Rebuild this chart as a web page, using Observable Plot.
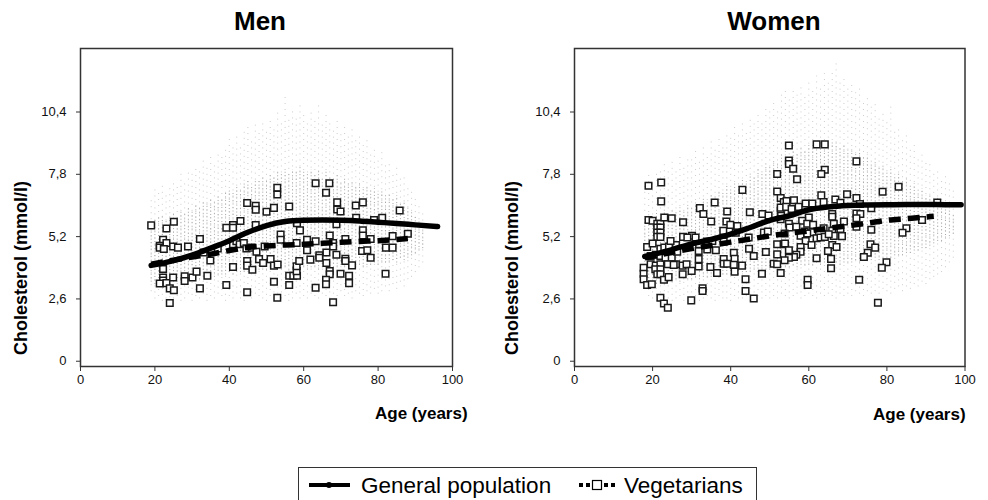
<!DOCTYPE html>
<html>
<head>
<meta charset="utf-8">
<script src="https://cdn.jsdelivr.net/npm/d3@7"></script>
<script src="https://cdn.jsdelivr.net/npm/@observablehq/plot@0.6"></script>
<style>
  html, body { margin: 0; padding: 0; background: #fff; }
  #root { position: relative; width: 988px; height: 500px; overflow: hidden; background: #fff;
          font-family: Arial, "Liberation Sans", Helvetica, sans-serif; color: #000; }
  .panel { position: absolute; top: 0; z-index: 1; }
  .title { position: absolute; top: 6px; font-weight: bold; font-size: 26px; text-align: center; width: 200px; z-index: 2; }
  .ylab { position: absolute; font-weight: bold; font-size: 18px; white-space: nowrap; z-index: 2;
          transform: translate(-50%, -50%) rotate(-90deg); }
  .xlab { position: absolute; font-weight: bold; font-size: 17px; white-space: nowrap; z-index: 2; }
  #legend { position: absolute; left: 298px; top: 467px; width: 459px; height: 44px; z-index: 2;
            border: 1px solid #333; box-sizing: border-box; }
  #legend span { position: absolute; top: 7px; font-size: 22.5px; line-height: 22px; white-space: nowrap; }
</style>
</head>
<body>
<div id="root">
  <div id="men" class="panel" style="left:0px"></div>
  <div id="women" class="panel" style="left:494px"></div>
  <div class="title" style="left:160px">Men</div>
  <div class="title" style="left:674px">Women</div>
  <div class="ylab" style="left:21px; top:268px">Cholesterol (mmol/l)</div>
  <div class="ylab" style="left:512px; top:268px">Cholesterol (mmol/l)</div>
  <div class="xlab" style="left:375px; top:404px">Age (years)</div>
  <div class="xlab" style="left:873px; top:405px">Age (years)</div>
  <div id="legend">
    <svg width="459" height="44" style="position:absolute;left:0;top:0">
      <line x1="10" y1="17" x2="51" y2="17" stroke="#000" stroke-width="4"/>
      <circle cx="30" cy="17" r="3" fill="#000"/>
      <rect x="280" y="15" width="4" height="4" fill="#000"/>
      <rect x="287" y="15" width="4" height="4" fill="#000"/>
      <rect x="293.5" y="12.5" width="9" height="9" fill="#fff" stroke="#000" stroke-width="1.2"/>
      <rect x="305" y="15" width="4" height="4" fill="#000"/>
      <rect x="312" y="15" width="4" height="4" fill="#000"/>
    </svg>
    <span style="left:62px">General population</span>
    <span style="left:325px">Vegetarians</span>
  </div>
</div>
<script>
// ---------- axes ----------
const xTicks = [0, 20, 40, 60, 80, 100];
const yTicks = [0, 2.6, 5.2, 7.8, 10.4];

// ---------- MEN ----------
// general population cloud (faint dots), one vertical strip per year of age
const cloudAgeM = [19,20,21,22,23,24,25,26,27,28,29,30,31,32,33,34,35,36,37,38,39,40,41,42,43,44,45,46,47,48,49,50,51,52,53,54,55,56,57,58,59,60,61,62,63,64,65,66,67,68,69,70,71,72,73,74,75,76,77,78,79,80,81,82,83,84,85,86,87,88,89,90,91,92];
const cloudHiM  = [6.9,7.2,7.0,7.4,7.1,7.3,7.6,7.4,7.8,7.5,8.0,7.8,8.2,7.9,8.4,8.1,8.6,8.3,8.8,8.5,9.0,9.3,8.9,9.5,9.1,9.6,9.8,9.3,9.9,9.6,10.1,9.7,10.2,9.8,10.4,10.0,11.1,10.2,10.6,10.1,10.8,10.3,9.9,10.5,10.1,10.7,9.9,10.3,10.0,9.7,10.1,9.6,9.9,9.4,9.7,9.2,9.5,9.0,9.3,8.8,9.0,8.5,8.7,8.2,8.4,7.9,8.1,7.6,7.8,7.3,7.1,6.8,6.5,6.2];
const cloudLoM  = [2.9,2.6,2.7,2.5,2.6,2.4,2.6,2.7,2.5,2.6,2.8,2.5,2.7,2.6,2.8,2.5,2.7,2.6,2.8,2.7,2.5,2.7,2.6,2.8,2.6,2.5,2.7,2.6,2.8,2.7,2.6,2.5,2.7,2.6,2.8,2.6,2.7,2.5,2.6,2.8,2.6,2.7,2.6,2.8,2.7,2.6,2.8,2.7,2.6,2.8,2.7,2.9,2.7,2.8,2.6,2.9,2.8,2.7,2.9,2.8,3.0,2.8,2.9,3.1,2.9,3.2,3.0,3.3,3.1,3.4,3.5,3.7,3.9,4.1];
const denseHiM  = [5.8,5.9,6.0,6.1,5.9,6.1,6.2,6.0,6.3,6.2,6.4,6.3,6.5,6.4,6.7,6.6,6.8,6.7,6.9,6.8,7.0,7.2,7.0,7.3,7.2,7.4,7.5,7.3,7.6,7.5,7.7,7.6,7.8,7.7,7.9,7.8,8.0,7.8,8.0,7.9,8.1,7.9,7.8,8.0,7.8,8.0,7.7,7.9,7.7,7.6,7.8,7.5,7.7,7.4,7.5,7.3,7.4,7.2,7.3,7.1,7.2,7.0,7.1,6.9,7.0,6.8,6.9,6.6,6.7,6.4,6.3,6.1,5.9,5.7];
const denseLoM  = [3.3,3.2,3.3,3.2,3.3,3.2,3.3,3.3,3.4,3.3,3.4,3.4,3.5,3.4,3.5,3.5,3.6,3.5,3.6,3.6,3.6,3.7,3.6,3.7,3.7,3.7,3.8,3.7,3.8,3.8,3.8,3.8,3.9,3.8,3.9,3.8,3.9,3.8,3.9,3.9,3.8,3.9,3.8,3.9,3.9,3.8,3.9,3.9,3.8,3.9,3.9,4.0,3.9,4.0,3.9,4.0,4.0,3.9,4.0,4.0,4.1,4.0,4.1,4.1,4.1,4.2,4.1,4.3,4.2,4.3,4.4,4.5,4.6,4.7];
// vegetarians (squares)
const vegAgeM  = [19.0,25.1,23.1,22.2,23.1,21.3,21.3,22.4,24.9,26.2,28.9,32.1,33.1,36.9,34.9,39.2,41.0,41.0,43.0,44.8,47.1,47.1,50.0,52.0,52.9,52.9,56.1,47.1,53.8,53.8,41.0,41.9,42.8,43.9,44.6,46.0,47.3,49.5,44.8,44.8,46.2,48.0,49.1,51.1,52.0,53.0,41.0,22.2,22.2,22.2,21.3,23.1,24.9,24.0,25.1,28.0,28.0,30.1,31.2,34.1,32.1,39.2,24.0,44.8,52.0,52.9,56.1,56.1,57.2,58.2,58.1,58.1,58.8,58.1,58.2,63.2,66.9,66.0,69.0,69.0,69.9,74.0,75.9,85.8,74.1,78.9,81.1,59.0,68.8,75.9,75.9,67.0,83.9,88.0,60.9,60.9,63.2,67.9,67.9,71.2,78.0,75.7,77.1,82.1,83.9,66.1,68.8,64.2,64.2,61.8,71.2,71.2,66.1,73.0,78.0,67.0,67.0,69.9,72.2,72.2,66.0,66.0,63.2,82.0,67.9];
const vegCholM = [5.67,5.82,5.54,5.07,4.93,4.82,4.74,4.68,4.79,4.74,4.79,5.10,4.54,4.71,4.20,5.57,5.68,5.57,5.85,6.60,6.49,6.32,6.24,6.40,7.24,6.96,6.46,5.68,5.29,5.07,4.88,5.01,4.88,4.93,4.71,4.74,4.57,4.79,4.18,3.99,3.82,4.26,4.10,4.26,3.99,4.04,3.93,3.85,3.49,3.37,3.24,3.26,3.49,3.04,2.96,3.54,3.35,3.49,3.74,3.57,3.04,3.18,2.43,2.88,3.32,2.65,3.18,3.57,3.57,3.57,3.76,3.96,4.18,4.93,5.76,7.43,7.43,7.03,6.63,6.33,6.25,6.50,6.63,6.29,5.99,5.89,5.99,5.46,5.72,5.46,5.25,5.25,5.22,5.32,5.07,4.63,5.01,4.93,4.79,5.10,5.10,4.60,4.63,4.74,4.74,4.54,4.44,4.42,4.32,4.24,4.28,4.18,4.10,4.00,4.32,3.76,3.63,3.65,3.57,3.26,3.40,3.21,3.07,3.65,2.46];
// smoothed curves
const genLineAgeM = [19,25,30,35,40,45,50,55,60,65,70,75,80,85,90,96];
const genLineM    = [4.00,4.20,4.43,4.72,5.03,5.38,5.66,5.83,5.88,5.89,5.88,5.85,5.80,5.75,5.69,5.62];
const vegLineAgeM = [19,25,30,35,40,45,50,55,60,65,70,75,80,85,88];
const vegLineM    = [4.05,4.22,4.35,4.47,4.62,4.75,4.81,4.85,4.88,4.92,4.96,5.00,5.03,5.08,5.12];

// ---------- WOMEN ----------
const cloudAgeW = [18,19,20,21,22,23,24,25,26,27,28,29,30,31,32,33,34,35,36,37,38,39,40,41,42,43,44,45,46,47,48,49,50,51,52,53,54,55,56,57,58,59,60,61,62,63,64,65,66,67,68,69,70,71,72,73,74,75,76,77,78,79,80,81,82,83,84,85,86,87,88,89,90,91,92,93,94,95,96,97];
const cloudHiW  = [7.4,7.8,7.6,8.0,7.9,8.2,7.9,8.3,8.1,8.5,8.2,8.6,8.4,8.8,8.5,9.0,8.7,9.2,8.9,9.4,9.1,9.6,9.3,9.8,9.5,10.0,9.7,10.2,9.9,10.4,10.1,10.7,10.4,10.9,10.6,11.1,11.3,10.9,11.4,11.1,11.6,11.2,11.8,11.4,11.9,11.5,12.0,11.6,12.2,12.5,11.7,11.9,11.4,11.6,11.2,11.4,10.9,11.1,10.6,10.8,10.3,10.5,10.0,10.8,9.6,9.8,9.2,9.4,8.9,9.0,8.6,8.7,8.3,8.4,8.0,8.1,7.7,7.8,7.4,7.1];
const cloudLoW  = [3.0,2.7,2.6,2.5,2.6,2.4,2.6,2.5,2.6,2.7,2.5,2.6,2.6,2.7,2.5,2.6,2.7,2.6,2.5,2.7,2.6,2.6,2.5,2.7,2.6,2.6,2.7,2.5,2.6,2.7,2.6,2.7,2.6,2.7,2.6,2.8,2.7,2.6,2.7,2.8,2.6,2.7,2.8,2.7,2.6,2.8,2.7,2.8,2.7,2.6,2.8,2.7,2.8,2.7,2.9,2.8,2.7,2.9,2.8,2.9,2.8,3.0,2.9,2.8,3.0,3.1,2.9,3.1,3.0,3.2,3.1,3.3,3.2,3.4,3.5,3.6,3.7,3.9,4.1,4.3];
const denseHiW  = [6.0,6.1,6.0,6.2,6.1,6.3,6.2,6.3,6.2,6.4,6.3,6.5,6.4,6.6,6.6,6.8,6.7,6.9,6.9,7.1,7.0,7.3,7.2,7.4,7.4,7.6,7.5,7.8,7.7,8.0,7.9,8.2,8.1,8.4,8.3,8.6,8.6,8.5,8.8,8.7,8.9,8.8,9.0,8.9,9.1,8.9,9.1,9.0,9.2,9.1,8.9,9.0,8.8,8.9,8.7,8.8,8.5,8.6,8.3,8.4,8.1,8.2,7.9,8.0,7.7,7.8,7.5,7.6,7.3,7.4,7.1,7.2,6.9,7.0,6.7,6.8,6.5,6.6,6.3,6.1];
const denseLoW  = [3.4,3.3,3.3,3.2,3.3,3.2,3.3,3.3,3.4,3.3,3.4,3.4,3.4,3.5,3.4,3.5,3.5,3.5,3.6,3.5,3.6,3.6,3.6,3.7,3.6,3.7,3.7,3.7,3.8,3.7,3.8,3.8,3.8,3.9,3.8,3.9,3.9,3.9,4.0,3.9,4.0,4.0,4.0,4.0,4.1,4.0,4.1,4.0,4.1,4.1,4.0,4.1,4.1,4.1,4.2,4.1,4.2,4.2,4.2,4.3,4.2,4.3,4.3,4.3,4.4,4.4,4.4,4.5,4.5,4.6,4.6,4.7,4.7,4.8,4.9,5.0,5.0,5.1,5.2,5.3];
const vegAgeW  = [18.95,22.2,22.2,18.95,20.0,21.2,22.0,23.0,24.9,21.2,22.0,21.2,22.0,21.2,22.0,18.6,20.0,22.0,23.0,24.2,26.0,19.5,20.8,22.0,19.5,20.8,22.0,23.3,24.9,26.0,27.7,17.7,17.7,17.7,18.6,19.8,20.7,22.0,21.2,22.0,22.9,22.0,22.9,23.9,24.1,23.9,25.4,28.7,27.7,30.0,27.8,30.1,31.0,27.8,32.1,33.0,29.9,32.8,32.8,31.8,31.8,31.8,34.8,36.5,35.0,35.9,34.0,35.3,34.0,36.2,38.2,38.2,39.1,39.1,38.9,39.9,38.1,41.7,43.0,44.9,40.8,41.0,40.8,41.0,42.9,43.8,43.8,45.9,44.7,45.9,48.0,49.0,48.1,49.7,48.5,49.5,51.9,51.9,52.8,53.6,52.8,52.9,51.9,53.6,51.9,51.0,51.9,52.8,54.9,54.9,54.9,62.0,64.1,56.0,57.0,64.1,63.2,72.2,83.0,78.9,63.2,69.8,72.2,54.3,56.2,59.2,60.9,63.8,66.8,68.1,73.1,92.9,52.8,54.2,55.6,57.4,76.0,66.0,66.0,72.2,73.2,72.2,60.0,52.8,54.9,58.3,59.6,61.1,66.4,69.0,55.1,56.8,72.2,76.0,85.0,84.0,89.0,53.8,58.9,60.9,63.8,66.0,68.1,57.9,59.6,62.0,63.0,64.1,66.4,68.5,59.2,65.1,53.9,60.7,66.0,67.1,75.8,77.0,54.9,57.9,57.9,56.8,56.2,54.9,53.8,62.0,64.9,65.7,75.1,74.1,79.9,78.7,59.7,59.7,65.7,72.9,77.7,38.2,41.3,44.6,24.6,28.9,26.3,31.9];
const vegCholW = [7.32,7.46,6.67,5.89,5.86,5.74,5.74,6.00,5.97,5.58,5.58,5.37,5.37,5.19,5.19,4.77,4.91,4.69,4.74,4.79,4.85,4.39,4.44,4.39,4.05,3.99,4.05,4.32,4.32,4.05,3.99,3.90,3.65,3.42,3.18,3.21,3.84,3.84,3.63,3.63,3.40,2.65,2.41,2.23,3.51,4.05,4.02,4.05,3.63,3.77,5.19,5.24,5.16,5.80,6.39,6.14,2.54,3.04,2.93,4.60,4.26,3.95,3.93,3.68,5.83,6.62,4.99,5.02,4.66,4.63,4.26,4.07,4.07,6.25,5.83,5.69,5.44,5.64,7.15,6.22,4.53,4.27,4.02,3.74,3.99,3.42,2.93,2.62,4.69,4.39,3.65,4.56,6.14,6.08,5.37,5.41,7.81,7.08,6.81,6.64,6.28,6.07,4.88,4.88,4.46,4.07,4.05,3.68,9.00,8.37,8.23,9.05,9.05,8.03,7.59,7.99,7.81,8.34,7.28,7.07,6.92,6.97,6.81,6.69,6.72,6.58,6.58,6.64,6.75,6.61,6.56,6.62,6.41,6.44,6.35,6.44,6.39,6.14,6.03,6.16,6.14,5.97,6.00,5.93,5.74,5.86,5.74,5.69,5.74,5.83,5.58,5.61,5.61,5.49,5.55,5.36,5.89,5.33,5.41,5.38,5.55,5.44,5.52,5.24,5.33,5.13,5.16,5.19,5.23,5.22,5.02,5.30,4.91,4.85,4.85,4.77,4.88,4.74,4.63,4.77,4.57,4.44,4.35,4.32,4.21,4.30,4.60,4.27,4.53,4.35,4.13,3.90,3.40,3.18,3.88,3.40,2.44,4.99,5.36,5.16,5.02,5.16,4.57,4.88];
const genLineAgeW = [18,20,25,30,35,40,45,50,55,60,65,70,75,80,85,90,95,99];
const genLineW    = [4.37,4.45,4.66,4.90,5.08,5.30,5.58,5.88,6.07,6.32,6.44,6.50,6.52,6.53,6.54,6.54,6.53,6.53];
const vegLineAgeW = [18,20,25,30,35,40,45,50,55,60,65,70,75,80,85,90,92];
const vegLineW    = [4.32,4.38,4.55,4.70,4.83,4.97,5.10,5.23,5.34,5.44,5.55,5.65,5.76,5.88,5.95,6.02,6.05];

// ---------- build ----------
const zip2 = (xs, ys) => xs.map((x, i) => ({x, y: ys[i]}));
const cloudRows = (ages, lo, hi, dlo, dhi) => ages.map((a, i) => ({age: a, lo: lo[i], hi: hi[i], dlo: dlo[i], dhi: dhi[i]}));
const fmt = d => String(d).replace(".", ",");

function panel(cfg) {
  return Plot.plot({
    width: 494,
    height: 440,
    marginLeft: 80,
    marginRight: cfg.marginRight,
    marginTop: 48,
    marginBottom: 74,
    x: {domain: [0, 100]},
    y: {domain: [-0.22, 13.05]},
    style: {fontFamily: 'Arial, "Liberation Sans", Helvetica, sans-serif', fontSize: "13px", color: "#111", background: "transparent", overflow: "visible"},
    marks: [
      Plot.ruleX(cfg.cloud, {x: "age", y1: "lo", y2: "hi", stroke: "#cccccc", strokeWidth: 1, strokeDasharray: "1,5"}),
      Plot.ruleX(cfg.cloud, {x: "age", y1: "dlo", y2: "dhi", stroke: "#a6a6a6", strokeWidth: 1, strokeDasharray: "1,2.5"}),
      Plot.dot(cfg.veg, {x: "x", y: "y", symbol: "square", r: 3.7, fill: "white", stroke: "#1a1a1a", strokeWidth: 1.5}),
      Plot.line(cfg.gen, {x: "x", y: "y", stroke: "#000", strokeWidth: 5.5, curve: "monotone-x"}),
      Plot.line(cfg.vegLine, {x: "x", y: "y", stroke: "#000", strokeWidth: 5.5, strokeDasharray: "12,7", strokeLinecap: "butt", curve: "monotone-x"}),
      Plot.frame({stroke: "#333", strokeWidth: 1.5}),
      Plot.axisX({ticks: xTicks, tickSize: 5, tickPadding: 3, label: null, stroke: "#333"}),
      Plot.axisY({ticks: yTicks, tickSize: 4, tickPadding: 10, tickFormat: fmt, label: null, stroke: "#333"})
    ]
  });
}

document.getElementById("men").append(panel({
  marginRight: 42,
  cloud: cloudRows(cloudAgeM, cloudLoM, cloudHiM, denseLoM, denseHiM),
  veg: zip2(vegAgeM, vegCholM),
  gen: zip2(genLineAgeM, genLineM),
  vegLine: zip2(vegLineAgeM, vegLineM)
}));
document.getElementById("women").append(panel({
  marginRight: 23.5,
  cloud: cloudRows(cloudAgeW, cloudLoW, cloudHiW, denseLoW, denseHiW),
  veg: zip2(vegAgeW, vegCholW),
  gen: zip2(genLineAgeW, genLineW),
  vegLine: zip2(vegLineAgeW, vegLineW)
}));
</script>
</body>
</html>
